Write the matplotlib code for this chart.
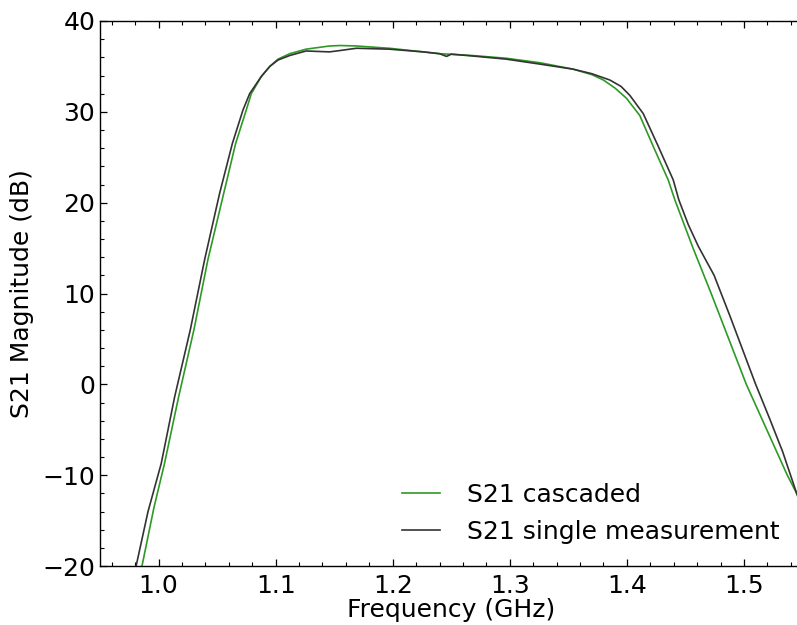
import matplotlib
matplotlib.use("Agg")
import matplotlib.pyplot as plt
from matplotlib.ticker import MultipleLocator

# S21 cascaded (green)
freq_casc = [0.975, 0.986, 0.996, 1.0051, 1.0171, 1.0302, 1.0421, 1.0556, 1.0658, 1.0749,
             1.0792, 1.0878, 1.095, 1.102, 1.112, 1.126, 1.146, 1.155, 1.169, 1.197,
             1.226, 1.240, 1.255, 1.268, 1.297, 1.326, 1.354, 1.370, 1.380, 1.390,
             1.3996, 1.411, 1.4225, 1.4353, 1.441, 1.4565, 1.472, 1.487, 1.502,
             1.5195, 1.537, 1.545, 1.552]
s21_casc = [-26.0, -19.9, -13.6, -8.7, -1.4, 6.0, 13.7, 21.0, 26.5, 30.2,
            32.0, 33.9, 35.0, 35.8, 36.4, 36.9, 37.25, 37.3, 37.25, 37.0,
            36.6, 36.4, 36.3, 36.2, 35.9, 35.4, 34.7, 34.1, 33.5, 32.6,
            31.5, 29.6, 26.2, 22.5, 20.3, 15.0, 10.0, 5.0, 0.0,
            -5.0, -10.0, -12.0, -14.2]

# S21 single measurement (dark grey)
freq_single = [0.970, 0.981, 0.991, 1.0023, 1.0137, 1.0271, 1.0393, 1.0521, 1.063, 1.0721,
               1.0778, 1.0878, 1.095, 1.102, 1.112, 1.126, 1.146, 1.155, 1.169, 1.197,
               1.226, 1.240, 1.246, 1.250, 1.268, 1.297, 1.326, 1.354, 1.370, 1.3855,
               1.395, 1.4026, 1.414, 1.4268, 1.4396, 1.4444, 1.4524, 1.461, 1.4745,
               1.4884, 1.4989, 1.510, 1.522, 1.533, 1.545, 1.552]
s21_single = [-26.0, -19.9, -14.0, -8.7, -1.4, 6.0, 13.7, 21.0, 26.5, 30.2,
              32.0, 33.9, 35.0, 35.7, 36.2, 36.7, 36.6, 36.75, 37.0, 36.9,
              36.6, 36.4, 36.1, 36.35, 36.15, 35.8, 35.25, 34.7, 34.2, 33.5,
              32.8, 31.8, 29.8, 26.2, 22.5, 20.3, 17.6, 15.2, 12.0,
              7.4, 3.8, 0.0, -3.8, -7.4, -12.0, -14.4]

labels = ["S21 cascaded", "S21 single measurement"]

fig = plt.figure(figsize=(7.97, 6.25), dpi=100)
ax = fig.add_axes([0.1255, 0.0944, 0.8814, 0.872])

ax.plot(freq_casc, s21_casc, color="#2e9a25", lw=1.2, label=labels[0])
ax.plot(freq_single, s21_single, color="#333333", lw=1.2, label=labels[1])

ax.set_xlim(0.95, 1.55)
ax.set_ylim(-20, 40)
ax.xaxis.set_major_locator(MultipleLocator(0.1))
ax.xaxis.set_minor_locator(MultipleLocator(0.02))
ax.yaxis.set_major_locator(MultipleLocator(10))
ax.yaxis.set_minor_locator(MultipleLocator(2))

ax.tick_params(which="both", direction="in", top=True, right=False, labelsize=18)
ax.tick_params(which="major", length=5, width=0.9)
ax.tick_params(which="minor", length=3, width=0.8)
ax.tick_params(axis="x", pad=6)
for s in ax.spines.values():
    s.set_linewidth(1.0)

ax.set_xlabel("Frequency (GHz)", fontsize=18, labelpad=0)
ax.set_ylabel("S21 Magnitude (dB)", fontsize=18, labelpad=6)

ax.legend(loc="lower right", frameon=False, fontsize=18, bbox_to_anchor=(1.0, 0.0),
          handlelength=1.5, handletextpad=1.1)

fig.savefig("out.png", dpi=100)
